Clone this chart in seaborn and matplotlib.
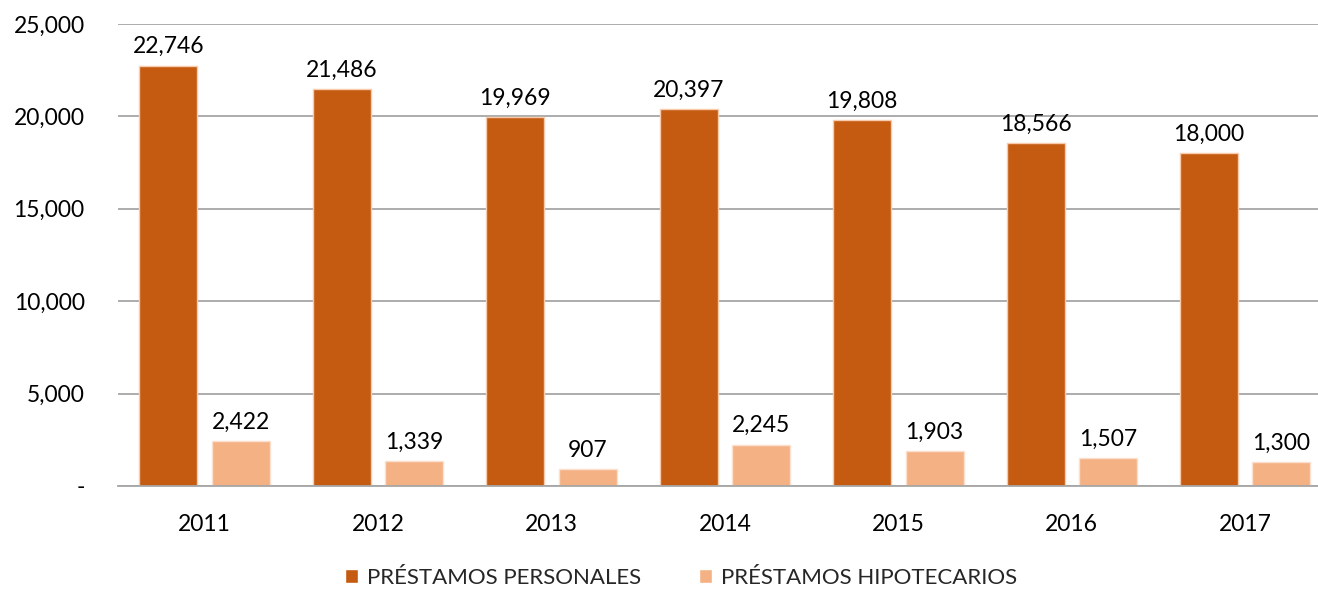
import matplotlib
matplotlib.use("Agg")
import matplotlib.pyplot as plt
import matplotlib.ticker as mticker
import seaborn as sns
import pandas as pd

# datos del gráfico
years = ["2011", "2012", "2013", "2014", "2015", "2016", "2017"]
personales = [22746, 21486, 19969, 20397, 19808, 18566, 18000]
hipotecarios = [2422, 1339, 907, 2245, 1903, 1507, 1300]
series_names = ["PRÉSTAMOS PERSONALES", "PRÉSTAMOS HIPOTECARIOS"]
colors = ["#C55A11", "#F4B183"]

df = pd.DataFrame({
    "year": years * 2,
    "value": personales + hipotecarios,
    "serie": [series_names[0]] * len(years) + [series_names[1]] * len(years),
})

sns.set_style("white")
plt.rcParams["font.family"] = ["Lato", "DejaVu Sans"]

fig = plt.figure(figsize=(13.18, 5.91), dpi=100)
ax = fig.add_axes([118 / 1318, 1 - 486 / 591, 1 - 118 / 1318, (486 - 24) / 591])

sns.barplot(data=df, x="year", y="value", hue="serie", palette=colors,
            width=0.836, gap=0.2, ax=ax, saturation=1, legend=True)

# bordes claros en las barras
for cont, ec in zip(ax.containers, ["#F8CBAD", "#FBE0CF"]):
    for p in cont:
        p.set_edgecolor(ec)
        p.set_linewidth(1.0)
    ax.bar_label(cont, labels=[f"{v:,.0f}" for v in cont.datavalues],
                 padding=6, fontsize=16.5, color="#000000")

ax.set_ylim(0, 25000)
ax.set_xlim(-0.5, 6.42)
ax.yaxis.set_major_locator(mticker.MultipleLocator(5000))
ax.yaxis.set_major_formatter(mticker.FuncFormatter(lambda v, p: "-" if v == 0 else f"{v:,.0f}"))
ax.grid(axis="y", color="#A6A6A6", linewidth=1.3)
ax.set_axisbelow(True)
for s in ["left", "right", "top"]:
    ax.spines[s].set_visible(False)
ax.spines["bottom"].set_color("#A6A6A6")
ax.spines["bottom"].set_linewidth(1.3)
ax.tick_params(axis="y", length=0, pad=24, labelsize=16.5, labelcolor="#000000")
ax.tick_params(axis="x", length=0, pad=20, labelsize=16.5, labelcolor="#000000")
ax.set_xlabel("")
ax.set_ylabel("")

leg = ax.legend(loc="center", ncol=2, frameon=False,
                fontsize=16, handlelength=0.6, handleheight=0.6, handletextpad=0.4,
                columnspacing=2.6)
leg.set_bbox_to_anchor((681 / 1318, 1 - 578 / 591), transform=fig.transFigure)

fig.savefig("out.png", dpi=100)
